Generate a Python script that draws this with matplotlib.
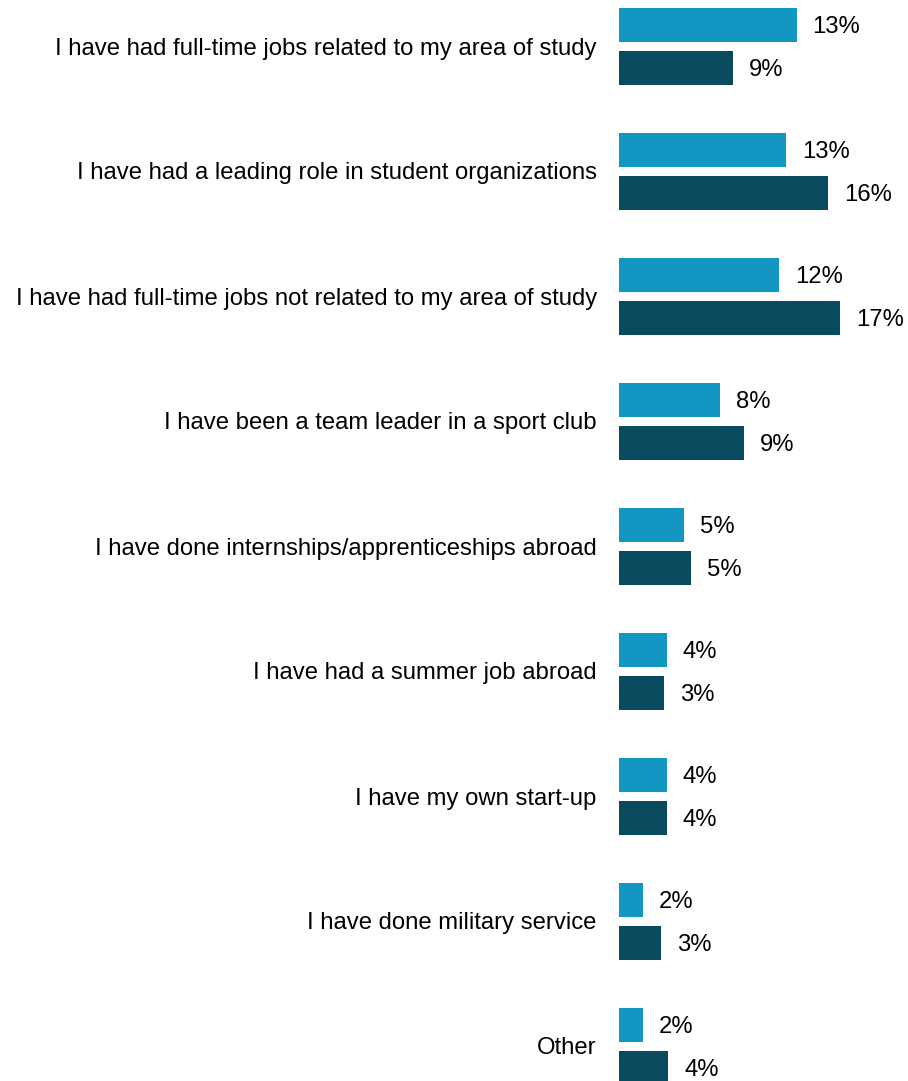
import numpy as np
import matplotlib.pyplot as plt

plt.rcParams['font.family'] = ['Liberation Sans', 'DejaVu Sans']

# answer options, top to bottom
categories = [
    "I have had full-time jobs related to my area of study",
    "I have had a leading role in student organizations",
    "I have had full-time jobs not related to my area of study",
    "I have been a team leader in a sport club",
    "I have done internships/apprenticeships abroad",
    "I have had a summer job abroad",
    "I have my own start-up",
    "I have done military service",
    "Other",
]
# share of respondents (%), two groups
group_a = [13.4, 12.6, 12.1, 7.6, 4.9, 3.6, 3.6, 1.8, 1.8]
group_b = [8.6, 15.8, 16.7, 9.4, 5.4, 3.4, 3.6, 3.2, 3.7]

color_a = "#1297C3"
color_b = "#0A4A5F"

W, H, DPI = 908, 1081, 100
fig = plt.figure(figsize=(W / DPI, H / DPI), dpi=DPI)
left_px = 619
ax = fig.add_axes([left_px / W, 0, 1 - left_px / W, 1])

y = np.arange(len(categories))
bar_h = 34 / 125
offset = 21.5 / 125

ax.barh(y - offset, group_a, height=bar_h, color=color_a)
ax.barh(y + offset, group_b, height=bar_h, color=color_b)

px_per_pct = 13.25
ax.set_xlim(0, (W - left_px) / px_per_pct)
ax.set_ylim((H - 46) / 125, -46 / 125)

gap = 16 / px_per_pct
nudge = 2.5 / 125  # value labels sit a touch below bar centre
fs = 17.2
for yi, va, vb in zip(y, group_a, group_b):
    ax.text(va + gap, yi - offset + nudge, f"{va:.0f}%", va="center", ha="left", fontsize=fs)
    ax.text(vb + gap, yi + offset + nudge, f"{vb:.0f}%", va="center", ha="left", fontsize=fs)

ax.set_yticks(y)
ax.set_yticklabels(categories, fontsize=fs)
ax.tick_params(axis="y", length=0, pad=16)
ax.set_xticks([])
for s in ax.spines.values():
    s.set_visible(False)

fig.savefig("out.png", dpi=DPI)
